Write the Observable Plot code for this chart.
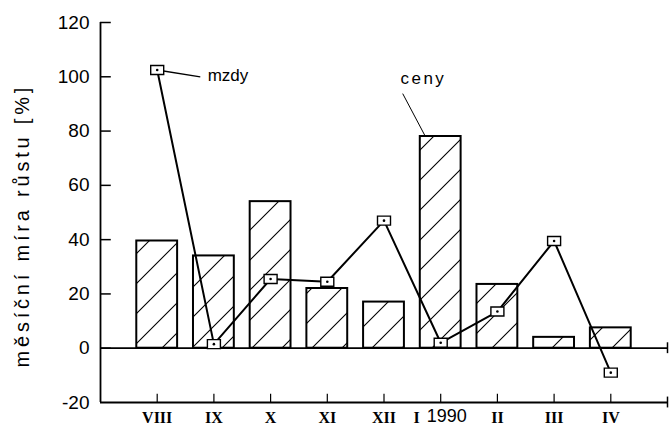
<!DOCTYPE html>
<html>
<head>
<meta charset="utf-8">
<script src="https://cdn.jsdelivr.net/npm/d3@7"></script>
<script src="https://cdn.jsdelivr.net/npm/@observablehq/plot@0.6"></script>
<style>
  html, body { margin: 0; padding: 0; background: #fff; color: #000; }
  #chart svg { display: block; }
</style>
</head>
<body>
<div id="chart"></div>
<script>
// ---- data ----
const months = ["VIII", "IX", "X", "XI", "XII", "I", "II", "III", "IV"];
const yearLabel = "1990";
const ceny = [39.5, 34, 54, 22, 17, 78, 23.5, 4, 7.5];     // bars (prices)
const mzdy = [102.5, 1.5, 25.5, 24.5, 47, 2, 13.5, 39.5, -9]; // line (wages)
const yTicks = [-20, 0, 20, 40, 60, 80, 100, 120];
const yTitle = "měsíční míra růstu [%]";
const seriesNames = { mzdy: "mzdy", ceny: "ceny" };

const rows = months.map((m, i) => ({ i: i + 1, m, ceny: ceny[i], mzdy: mzdy[i] }));
const xMax = months.length + 1;

// label anchors (data units) for the two annotations
const mzdyNote = { x1: 1, y1: mzdy[0], x2: 1.76, y2: 100, tx: 1.89, ty: 100.5 };
const cenyNote = { x1: 6 - 0.27, y1: ceny[5], x2: 5.33, y2: 93.8, tx: 5.29, ty: 99.5 };

const hatchDefs = () => {
  const defs = d3.create("svg:defs");
  const p = defs.append("pattern")
    .attr("id", "hatch")
    .attr("patternUnits", "userSpaceOnUse")
    .attr("width", 30).attr("height", 30);
  p.append("path")
    .attr("d", "M0,30L30,0M-5,5L5,-5M25,35L35,25")
    .attr("stroke", "#000").attr("stroke-width", 1.1).attr("fill", "none");
  return defs.node();
};

const boxSymbol = { draw(ctx) { ctx.rect(-6.5, -4.5, 13, 9); } };

const sans = "Liberation Sans, Arial, sans-serif";
const serif = "Liberation Serif, Times New Roman, serif";

const yearMonth = rows.filter(d => d.m === "I");
const otherMonths = rows.filter(d => d.m !== "I");

const chart = Plot.plot({
  width: 669,
  height: 427,
  marginLeft: 100,
  marginRight: 2,
  marginTop: 22,
  marginBottom: 25,
  x: { domain: [0, xMax], axis: null },
  y: { domain: [-20, 120], axis: null },
  style: { background: "white", overflow: "visible" },
  marks: [
    hatchDefs,
    // bars: ceny
    Plot.rectY(rows, {
      x1: d => d.i - 0.36, x2: d => d.i + 0.36, y1: 0, y2: "ceny",
      fill: "url(#hatch)", stroke: "black", strokeWidth: 2
    }),
    // axes
    Plot.ruleY([0], { x1: 0, x2: xMax, stroke: "black", strokeWidth: 1.8 }),
    Plot.ruleY([-20], { x1: 0, x2: xMax, stroke: "black", strokeWidth: 1.8 }),
    Plot.ruleX([0], { y1: -20, y2: 120, stroke: "black", strokeWidth: 1.8 }),
    Plot.ruleY(yTicks.filter(d => d > -20), { x1: 0, x2: 0.19, stroke: "black", strokeWidth: 1.5 }),
    Plot.ruleX(rows, { x: "i", y1: -20, y2: -17, stroke: "black", strokeWidth: 1.2 }),
    Plot.ruleX([xMax], { y1: -22, y2: -18, stroke: "black", strokeWidth: 1.5 }),
    Plot.ruleX([xMax], { y1: -2, y2: 2, stroke: "black", strokeWidth: 1.5 }),
    // line: mzdy
    Plot.line(rows, { x: "i", y: "mzdy", stroke: "black", strokeWidth: 2 }),
    // annotation leaders
    Plot.link([mzdyNote], { x1: "x1", y1: "y1", x2: "x2", y2: "y2", stroke: "black", strokeWidth: 1.3 }),
    Plot.link([cenyNote], { x1: "x1", y1: "y1", x2: "x2", y2: "y2", stroke: "black", strokeWidth: 1 }),
    Plot.dot(rows, { x: "i", y: "mzdy", symbol: boxSymbol, r: 5, fill: "white", stroke: "black", strokeWidth: 1.4 }),
    Plot.dot(rows, { x: "i", y: "mzdy", r: 1.3, fill: "black" }),
    // annotation texts
    Plot.text([mzdyNote], { x: "tx", y: "ty", text: () => seriesNames.mzdy, textAnchor: "start", lineAnchor: "middle", fontSize: 17, fontFamily: sans }),
    Plot.text([cenyNote], { x: "tx", y: "ty", text: () => seriesNames.ceny, textAnchor: "start", lineAnchor: "middle", fontSize: 17, fontFamily: sans }),
    // y tick labels
    Plot.text(yTicks, { x: 0, y: d => d, text: d => String(d), dx: -11, textAnchor: "end", lineAnchor: "middle", fontSize: 19, fontFamily: sans }),
    // x tick labels
    Plot.text(otherMonths, { x: "i", y: -20, text: "m", dy: 15, lineAnchor: "middle", fontSize: 16, fontFamily: serif, fontWeight: "bold" }),
    Plot.text(yearMonth, { x: "i", y: -20, text: "m", dy: 15, dx: -24, lineAnchor: "middle", fontSize: 16, fontFamily: serif, fontWeight: "bold" }),
    Plot.text([yearLabel], { x: 6, y: -20, text: d => d, dy: 14, dx: 6, lineAnchor: "middle", fontSize: 18, fontFamily: sans }),
    // y title
    Plot.text([yTitle], { frameAnchor: "bottom-left", text: d => d, rotate: -90, dx: -78, dy: -35, textAnchor: "start", lineAnchor: "middle", fontSize: 20, fontFamily: sans })
  ]
});

// letter spacing for the typewriter-like labels
d3.select(chart).selectAll("text")
  .filter(function () { return this.textContent === yTitle; })
  .attr("letter-spacing", 3.8);
d3.select(chart).selectAll("text")
  .filter(function () { return this.textContent === seriesNames.ceny; })
  .attr("letter-spacing", 2.5);

document.getElementById("chart").append(chart);
</script>
</body>
</html>
